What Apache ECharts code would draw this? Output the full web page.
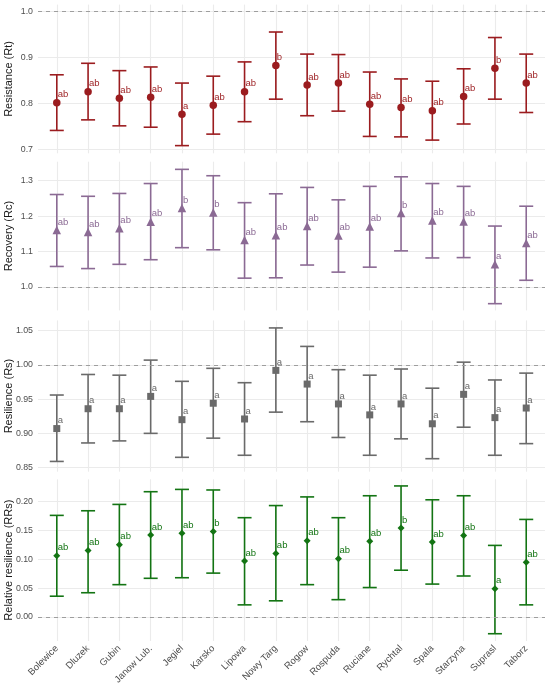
<!DOCTYPE html>
<html>
	<head>
		<meta charset="utf-8">
		<title>Resistance, recovery and resilience by site</title>
		<style>
			html, body { margin: 0; padding: 0; background: #ffffff; }
			#chart { width: 550px; height: 683px; }
		</style>
	</head>
	<body>
		<div id="chart"></div>
		<script src="https://cdn.jsdelivr.net/npm/echarts@6/dist/echarts.min.js"></script>
		<script>
			// sites on the x axis (same for all four panels)
			var sites = ['Bolewice', 'Dluzek', 'Gubin', 'Janow Lub.', 'Jegiel', 'Karsko', 'Lipowa', 'Nowy Targ',
				'Rogow', 'Rospuda', 'Ruciane', 'Rychtal', 'Spala', 'Starzyna', 'Suprasl', 'Taborz'];

			// Resistance (Rt)
			var rtMean = [0.801, 0.825, 0.811, 0.813, 0.776, 0.796, 0.825, 0.882, 0.840, 0.844, 0.798, 0.791, 0.784, 0.815, 0.876, 0.844];
			var rtLow = [0.741, 0.764, 0.751, 0.748, 0.708, 0.733, 0.760, 0.809, 0.773, 0.783, 0.728, 0.727, 0.720, 0.755, 0.809, 0.780];
			var rtHigh = [0.862, 0.887, 0.871, 0.879, 0.844, 0.859, 0.890, 0.955, 0.907, 0.906, 0.868, 0.853, 0.848, 0.875, 0.943, 0.907];
			var rtLetters = ['ab', 'ab', 'ab', 'ab', 'a', 'ab', 'ab', 'b', 'ab', 'ab', 'ab', 'ab', 'ab', 'ab', 'b', 'ab'];
			var rtTicks = [0.7, 0.8, 0.9, 1.0];

			// Recovery (Rc)
			var rcMean = [1.161, 1.155, 1.166, 1.184, 1.223, 1.210, 1.133, 1.146, 1.172, 1.145, 1.171, 1.209, 1.188, 1.185, 1.064, 1.124];
			var rcLow = [1.058, 1.052, 1.064, 1.077, 1.111, 1.105, 1.025, 1.026, 1.062, 1.042, 1.056, 1.102, 1.082, 1.083, 0.953, 1.019];
			var rcHigh = [1.261, 1.256, 1.264, 1.292, 1.332, 1.314, 1.238, 1.263, 1.281, 1.246, 1.284, 1.311, 1.292, 1.284, 1.172, 1.228];
			var rcLetters = ['ab', 'ab', 'ab', 'ab', 'b', 'b', 'ab', 'ab', 'ab', 'ab', 'ab', 'b', 'ab', 'ab', 'a', 'ab'];
			var rcTicks = [1.0, 1.1, 1.2, 1.3];

			// Resilience (Rs)
			var rsMean = [0.907, 0.936, 0.936, 0.954, 0.920, 0.944, 0.921, 0.992, 0.972, 0.943, 0.927, 0.943, 0.914, 0.957, 0.923, 0.937];
			var rsLow = [0.859, 0.886, 0.889, 0.900, 0.865, 0.893, 0.868, 0.931, 0.917, 0.894, 0.868, 0.892, 0.863, 0.909, 0.868, 0.885];
			var rsHigh = [0.956, 0.986, 0.985, 1.007, 0.976, 0.995, 0.974, 1.054, 1.027, 0.993, 0.985, 0.994, 0.966, 1.004, 0.978, 0.988];
			var rsLetters = ['a', 'a', 'a', 'a', 'a', 'a', 'a', 'a', 'a', 'a', 'a', 'a', 'a', 'a', 'a', 'a'];
			var rsTicks = [0.85, 0.90, 0.95, 1.00, 1.05];

			// Relative resilience (RRs)
			var rrsMean = [0.106, 0.115, 0.125, 0.142, 0.145, 0.148, 0.097, 0.110, 0.132, 0.101, 0.131, 0.154, 0.130, 0.141, 0.049, 0.095];
			var rrsLow = [0.036, 0.042, 0.056, 0.067, 0.068, 0.076, 0.021, 0.028, 0.056, 0.030, 0.051, 0.081, 0.057, 0.071, -0.029, 0.021];
			var rrsHigh = [0.176, 0.184, 0.195, 0.217, 0.221, 0.220, 0.172, 0.193, 0.208, 0.172, 0.210, 0.227, 0.203, 0.210, 0.124, 0.169];
			var rrsLetters = ['ab', 'ab', 'ab', 'ab', 'ab', 'b', 'ab', 'ab', 'ab', 'ab', 'ab', 'b', 'ab', 'ab', 'a', 'ab'];
			var rrsTicks = [0.00, 0.05, 0.10, 0.15, 0.20];
		</script>
		<script>
			var font = 'Liberation Sans, Arial, sans-serif';
			var siteIdx = sites.map(function(s, i) { return i; });

			// one entry per stacked panel
			var panels = [
				{ name: 'Resistance (Rt)', mean: rtMean, low: rtLow, high: rtHigh, letters: rtLetters, ticks: rtTicks, digits: 1,
					ref: 1, color: '#9b1c1f', symbol: 'circle', size: 7.5, top: 4.6, height: 148.7, min: 0.6913, max: 1.0146 },
				{ name: 'Recovery (Rc)', mean: rcMean, low: rcLow, high: rcHigh, letters: rcLetters, ticks: rcTicks, digits: 1,
					ref: 1, color: '#8b6a94', symbol: 'triangle', size: 8.5, top: 161.7, height: 148.7, min: 0.934, max: 1.3536 },
				{ name: 'Resilience (Rs)', mean: rsMean, low: rsLow, high: rsHigh, letters: rsLetters, ticks: rsTicks, digits: 2,
					ref: 1, color: '#6a6a6a', symbol: 'rect', size: 7, top: 320.4, height: 151.3, min: 0.844, max: 1.065 },
				{ name: 'Relative resilience (RRs)', mean: rrsMean, low: rrsLow, high: rrsHigh, letters: rrsLetters, ticks: rrsTicks, digits: 2,
					ref: 0, color: '#137413', symbol: 'diamond', size: 7, top: 479.3, height: 161.7, min: -0.0416, max: 0.2385 }
			];

			function errorBars(p) {
				return function(params, api) {
					var i = api.value(0);
					var pl = api.coord([i, api.value(2)]);
					var ph = api.coord([i, api.value(3)]);
					var pm = api.coord([i, api.value(1)]);
					var line = { stroke: p.color, lineWidth: 1.6 };
					return {
						type: 'group',
						children: [
							{ type: 'line', shape: { x1: pl[0], y1: pl[1], x2: ph[0], y2: ph[1] }, style: line },
							{ type: 'line', shape: { x1: pl[0] - 7, y1: pl[1], x2: pl[0] + 7, y2: pl[1] }, style: line },
							{ type: 'line', shape: { x1: ph[0] - 7, y1: ph[1], x2: ph[0] + 7, y2: ph[1] }, style: line },
							{ type: 'text', x: pm[0] + 1, y: pm[1] - 8, style: {
								text: p.letters[params.dataIndex], fill: p.color, font: '9.5px ' + font,
								align: 'left', verticalAlign: 'middle' } }
						]
					};
				};
			}

			var grids = [], xAxes = [], yAxes = [], series = [];
			panels.forEach(function(p, k) {
				grids.push({ left: 38, right: 5, top: p.top, height: p.height, outerBoundsMode: 'none', containLabel: false });
				xAxes.push({
					gridIndex: k, type: 'value', min: -0.6, max: 15.6,
					axisLine: { show: false },
					axisTick: { show: false, customValues: siteIdx },
					axisLabel: {
						show: k === 3, customValues: siteIdx, rotate: 45, margin: 6,
						color: '#4d4d4d', fontSize: 9.5, fontFamily: font,
						formatter: function(v) { return sites[Math.round(v)]; }
					},
					splitLine: { show: true, lineStyle: { color: '#ebebeb', width: 1.1 } }
				});
				yAxes.push({
					gridIndex: k, type: 'value', min: p.min, max: p.max,
					name: p.name, nameLocation: 'middle', nameGap: 24, nameMoveOverlap: false,
					nameTextStyle: { color: '#1a1a1a', fontSize: 11, fontFamily: font },
					axisLine: { show: false },
					axisTick: { show: false, customValues: p.ticks },
					axisLabel: {
						customValues: p.ticks, margin: 5, color: '#4d4d4d', fontSize: 8.8, fontFamily: font,
						formatter: function(v) { return v.toFixed(p.digits); }
					},
					splitLine: { show: true, lineStyle: { color: '#ebebeb', width: 1.1 } }
				});
				series.push({
					type: 'custom', xAxisIndex: k, yAxisIndex: k, silent: true,
					renderItem: errorBars(p),
					data: siteIdx.map(function(i) { return [i, p.mean[i], p.low[i], p.high[i]]; }),
					markLine: {
						silent: true, symbol: 'none', label: { show: false },
						lineStyle: { type: [4, 4], color: '#9e9e9e', width: 1 },
						data: [{ yAxis: p.ref }]
					}
				});
				series.push({
					type: 'scatter', xAxisIndex: k, yAxisIndex: k, silent: true,
					symbol: p.symbol, symbolSize: p.size,
					itemStyle: { color: p.color, opacity: 1 },
					data: siteIdx.map(function(i) { return [i, p.mean[i]]; }),
					z: 3
				});
			});

			var option = {
				backgroundColor: '#ffffff',
				animation: false,
				grid: grids,
				xAxis: xAxes,
				yAxis: yAxes,
				series: series
			};

			var chart = echarts.init(document.getElementById('chart'));
			chart.setOption(option);
		</script>
	</body>
</html>
